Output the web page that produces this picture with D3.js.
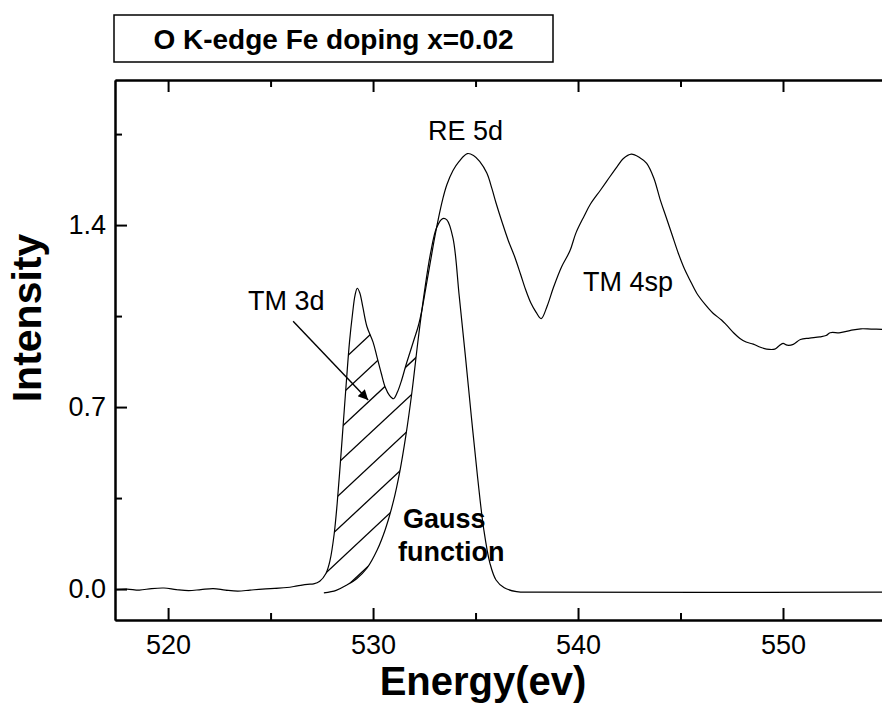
<!DOCTYPE html>
<html>
<head>
<meta charset="utf-8">
<script src="https://cdn.jsdelivr.net/npm/d3@7"></script>
<style>
  html, body { margin: 0; padding: 0; background: #fff; }
  svg text { font-family: "Liberation Sans", Arial, sans-serif; fill: #000; }
</style>
</head>
<body>
<svg id="chart" width="882" height="704"></svg>
<script>
// O K-edge absorption spectrum, Fe doping x = 0.02
const energy = [517.4, 518.0, 518.6, 519.2, 519.8, 520.4, 521.0, 521.6, 522.2, 522.8, 523.4, 524.0,
  524.6, 525.2, 525.8, 526.3, 526.8, 527.1, 527.4, 527.7, 527.9, 528.1, 528.25, 528.4, 528.55,
  528.7, 528.85, 529.0, 529.12, 529.23, 529.35, 529.5, 529.7, 530.0, 530.2, 530.4, 530.6, 530.8,
  531.0, 531.2, 531.4, 531.6, 531.8, 532.0, 532.2, 532.4, 532.6, 532.8, 533.0, 533.2, 533.4,
  533.6, 533.9, 534.2, 534.6, 534.9, 535.2, 535.55, 535.8, 536.0, 536.3, 536.6, 536.9, 537.2,
  537.45, 537.7, 537.95, 538.2, 538.5, 538.8, 539.2, 539.6, 539.9, 540.3, 540.6, 541.1, 541.5,
  541.9, 542.2, 542.6, 543.0, 543.35, 543.7, 544.0, 544.3, 544.6, 544.9, 545.2, 545.45, 545.8,
  546.2, 546.6, 547.0, 547.25, 547.6, 547.9, 548.2, 548.55, 548.9, 549.2, 549.6, 549.8, 550.0,
  550.2, 550.5, 550.85, 551.3, 551.8, 552.1, 552.3, 552.8, 553.3, 553.8, 554.3, 554.9];

const intensity = [-0.002, 0.000, -0.004, 0.002, 0.004, -0.002, -0.006, -0.002, 0.002, -0.004, -0.008, -0.004,
  0.000, 0.003, 0.006, 0.012, 0.018, 0.020, 0.030, 0.060, 0.110, 0.210, 0.330, 0.480, 0.640,
  0.800, 0.950, 1.060, 1.130, 1.157, 1.140, 1.085, 1.010, 0.950, 0.890, 0.830, 0.775, 0.745,
  0.732, 0.760, 0.805, 0.860, 0.910, 0.960, 1.010, 1.080, 1.170, 1.260, 1.350, 1.430, 1.500,
  1.555, 1.610, 1.645, 1.675, 1.668, 1.645, 1.600, 1.540, 1.485, 1.410, 1.340, 1.280, 1.210,
  1.150, 1.100, 1.065, 1.040, 1.090, 1.160, 1.240, 1.300, 1.370, 1.435, 1.480, 1.535, 1.580,
  1.624, 1.655, 1.673, 1.660, 1.637, 1.580, 1.500, 1.430, 1.360, 1.290, 1.230, 1.190, 1.137,
  1.095, 1.060, 1.035, 1.015, 0.985, 0.964, 0.950, 0.942, 0.930, 0.923, 0.923, 0.935, 0.945,
  0.938, 0.941, 0.960, 0.965, 0.970, 0.975, 0.986, 0.986, 0.995, 1.001, 1.000, 0.999];

// Fitted Gauss function under the RE 5d edge
const gaussEnergy = [527.6, 528.2, 528.7, 529.2, 529.7, 530.2, 530.6, 531.0, 531.3, 531.6, 531.9,
  532.2, 532.5, 532.8, 533.1, 533.4, 533.6, 533.9, 534.2, 534.5, 534.8, 535.1, 535.4, 535.7,
  536.0, 536.4, 537.0, 538.0, 554.9];
const gaussValue = [-0.015, -0.005, 0.015, 0.040, 0.080, 0.150, 0.230, 0.340, 0.450, 0.590, 0.760,
  0.960, 1.140, 1.290, 1.390, 1.425, 1.420, 1.350, 1.130, 0.900, 0.660, 0.430, 0.230, 0.100,
  0.035, 0.005, -0.010, -0.012, -0.012];

const xMajorTicks = [520, 530, 540, 550];
const xMinorTicks = [525, 535, 545, 555];
const yMajorTicks = [0.0, 0.7, 1.4];
const yMinorTicks = [0.35, 1.05, 1.75];

const titleText = "O K-edge Fe doping x=0.02";
const xTitle = "Energy(ev)";
const yTitle = "Intensity";

// Shaded TM 3d pre-edge: between the spectrum and the Gauss function
const hatchRange = [527.3, 532.3];
const hatchCeiling = 1.0;
const hatchAnchor = [528.71, 0.894];   // one hatch line passes through this point
const hatchAngle = 43;                  // degrees above horizontal
const hatchGap = 24;                    // px between neighbouring lines

// Annotations: [text, energy, intensity, bold]
const annotations = [
  ["RE 5d", 532.68, 1.727, false],
  ["TM 4sp", 540.24, 1.146, false],
  ["TM 3d", 523.9, 1.073, false],
  ["Gauss", 531.46, 0.235, true],
  ["function", 531.22, 0.108, true]
];
const arrowFrom = [526.1, 1.03];
const arrowTo = [529.76, 0.727];

const svg = d3.select("#chart");
const W = 882, H = 704;
const m = { left: 115, right: 0, top: 80, bottom: 84 };

const x = d3.scaleLinear().domain([517.41, 554.83]).range([m.left, W - m.right]);
const y = d3.scaleLinear().domain([-0.119, 1.958]).range([H - m.bottom, m.top]);

const spectrum = energy.map((e, i) => [e, intensity[i]]);
const gauss = gaussEnergy.map((e, i) => [e, gaussValue[i]]);

const line = d3.line().x(d => x(d[0])).y(d => y(d[1])).curve(d3.curveCatmullRom.alpha(0.5));

const defs = svg.append("defs");
defs.append("clipPath").attr("id", "plotClip")
  .append("rect").attr("x", m.left).attr("y", m.top)
  .attr("width", W - m.left - m.right).attr("height", H - m.bottom - m.top);

// clip region: spectrum above, Gauss function below, capped at hatchCeiling
const upper = spectrum.filter(d => d[0] >= hatchRange[0] && d[0] <= hatchRange[1])
  .map(d => [d[0], Math.min(d[1], hatchCeiling)]);
const lower = gauss.filter(d => d[0] <= hatchRange[1]).slice().reverse();
defs.append("clipPath").attr("id", "hatchClip")
  .append("path").attr("d", line(upper) + "L" + d3.line().x(d => x(d[0])).y(d => y(d[1])).curve(d3.curveCatmullRom.alpha(0.5))(lower).slice(1) + "Z");

const plot = svg.append("g").attr("clip-path", "url(#plotClip)");

// hatch lines
const a = hatchAngle * Math.PI / 180;
const dir = [Math.cos(a), -Math.sin(a)];
const nrm = [Math.sin(a), Math.cos(a)];
const p0 = [x(hatchAnchor[0]), y(hatchAnchor[1])];
const hatch = plot.append("g").attr("clip-path", "url(#hatchClip)");
d3.range(-4, 14).forEach(k => {
  const c = [p0[0] + k * hatchGap * nrm[0], p0[1] + k * hatchGap * nrm[1]];
  hatch.append("line")
    .attr("x1", c[0] - 300 * dir[0]).attr("y1", c[1] - 300 * dir[1])
    .attr("x2", c[0] + 300 * dir[0]).attr("y2", c[1] + 300 * dir[1])
    .attr("stroke", "#000").attr("stroke-width", 1.3);
});

plot.append("path").datum(gauss).attr("d", line)
  .attr("fill", "none").attr("stroke", "#000").attr("stroke-width", 1.2);
plot.append("path").datum(spectrum).attr("d", line)
  .attr("fill", "none").attr("stroke", "#000").attr("stroke-width", 1.2);

// axes with inward ticks
function styleAxis(g) {
  g.selectAll("path.domain").attr("stroke", "#000").attr("stroke-width", 2);
  g.selectAll(".tick line").attr("stroke", "#000").attr("stroke-width", 2);
  g.selectAll("text").attr("font-size", 27).attr("font-family", "Liberation Sans, Arial, sans-serif").attr("fill", "#000");
}

const yBase = H - m.bottom;
svg.append("g").attr("transform", `translate(0,${yBase})`)
  .call(d3.axisBottom(x).tickValues(xMajorTicks).tickSize(-12).tickSizeOuter(0).tickPadding(15).tickFormat(d3.format("d")))
  .call(styleAxis);
svg.append("g").attr("transform", `translate(0,${yBase})`)
  .call(d3.axisBottom(x).tickValues(xMinorTicks).tickSize(-7).tickSizeOuter(0).tickFormat(""))
  .call(styleAxis);
svg.append("g").attr("transform", `translate(0,${m.top})`)
  .call(d3.axisTop(x).tickValues(xMajorTicks).tickSize(-12).tickSizeOuter(0).tickFormat(""))
  .call(styleAxis);
svg.append("g").attr("transform", `translate(0,${m.top})`)
  .call(d3.axisTop(x).tickValues(xMinorTicks).tickSize(-7).tickSizeOuter(0).tickFormat(""))
  .call(styleAxis);
svg.append("g").attr("transform", `translate(${m.left},0)`)
  .call(d3.axisLeft(y).tickValues(yMajorTicks).tickSize(-12).tickSizeOuter(0).tickPadding(9).tickFormat(d3.format(".1f")))
  .call(styleAxis);
svg.append("g").attr("transform", `translate(${m.left},0)`)
  .call(d3.axisLeft(y).tickValues(yMinorTicks).tickSize(-7).tickSizeOuter(0).tickFormat(""))
  .call(styleAxis);

// axis titles
svg.append("text")
  .attr("x", 483).attr("y", 695)
  .attr("text-anchor", "middle").attr("font-weight", "bold").attr("font-size", 40)
  .text(xTitle);
svg.append("text")
  .attr("transform", "translate(41,318) rotate(-90)")
  .attr("text-anchor", "middle").attr("font-weight", "bold").attr("font-size", 41)
  .text(yTitle);

// title box
svg.append("rect").attr("x", 114).attr("y", 15).attr("width", 439).attr("height", 47)
  .attr("fill", "none").attr("stroke", "#000").attr("stroke-width", 1.5);
svg.append("text").attr("x", 333.5).attr("y", 49)
  .attr("text-anchor", "middle").attr("font-weight", "bold").attr("font-size", 28)
  .text(titleText);

// annotations
annotations.forEach(([t, e, v, b]) => {
  svg.append("text").attr("x", x(e)).attr("y", y(v))
    .attr("font-size", 27).attr("font-weight", b ? "bold" : "normal")
    .text(t);
});

defs.append("marker").attr("id", "arrowHead")
  .attr("viewBox", "0 0 10 10").attr("refX", 10).attr("refY", 5)
  .attr("markerUnits", "userSpaceOnUse").attr("markerWidth", 16).attr("markerHeight", 10)
  .attr("orient", "auto")
  .append("path").attr("d", "M0,0L10,5L0,10Z").attr("fill", "#000");

svg.append("line")
  .attr("x1", x(arrowFrom[0])).attr("y1", y(arrowFrom[1]))
  .attr("x2", x(arrowTo[0])).attr("y2", y(arrowTo[1]))
  .attr("stroke", "#000").attr("stroke-width", 1.4)
  .attr("marker-end", "url(#arrowHead)");
</script>
</body>
</html>
